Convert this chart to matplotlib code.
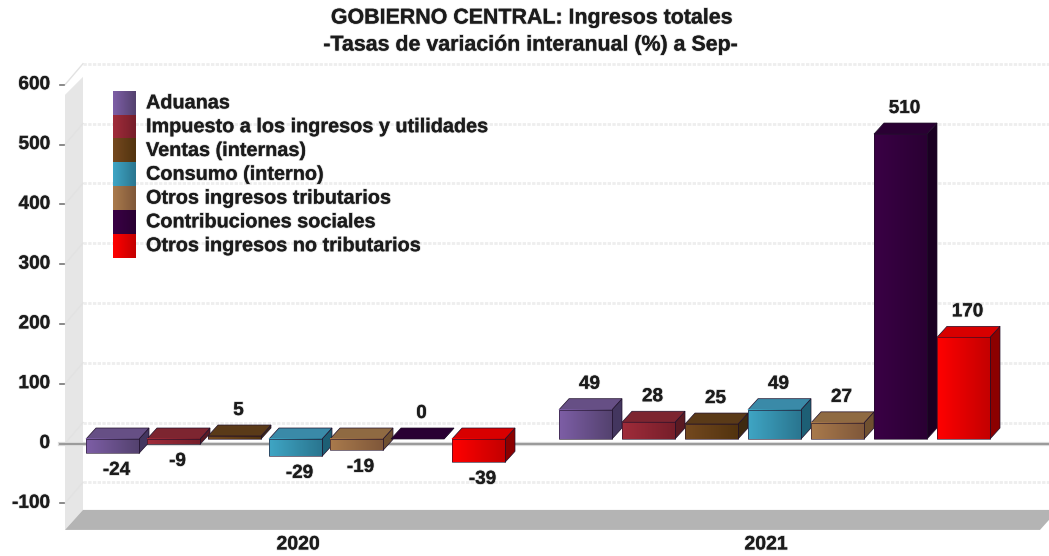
import numpy as np
import matplotlib
matplotlib.use("Agg")
import matplotlib.pyplot as plt
from matplotlib.colors import LinearSegmentedColormap
from matplotlib.patches import Polygon
import matplotlib.patheffects as pe

plt.rcParams['font.family'] = ['Liberation Sans', 'DejaVu Sans']

# ---- data ----
YEARS = ["2020", "2021"]
SERIES = ["Aduanas", "Impuesto a los ingresos y utilidades", "Ventas (internas)", "Consumo (interno)",
          "Otros ingresos tributarios", "Contribuciones sociales", "Otros ingresos no tributarios"]
VALS_2020 = [-24, -9, 5, -29, -19, 0, -39]
VALS_2021 = [49, 28, 25, 49, 27, 510, 170]
YTICKS = [-100, 0, 100, 200, 300, 400, 500, 600]
COL_LIGHT = ["#7d5ea6", "#a02c3a", "#74491f", "#3fa5c4", "#a97a4c", "#3a0045", "#ff0000"]
COL_DARK = ["#54426f", "#761e2a", "#52330f", "#2a7690", "#80583a", "#2a0033", "#c40000"]
COL_TOP = ["#664f85", "#7d2530", "#5a3a18", "#3a8aa8", "#8f6a42", "#2a0033", "#d80000"]
COL_SIDE = ["#43365f", "#5a1a22", "#3e2a10", "#1d5f75", "#6f5030", "#1a0022", "#8c0000"]

# ---- layout, in pixels of the 1049x556 image ----
W, H = 1049, 556
PX_PER_UNIT = 0.598
Y0_PX = 443.5            # front plane zero
BAR0_PX = 439            # bars sit a little above the zero line
GROUP_X = [86, 559]
GROUP_STEP = [61, 63]
BAR_W = 53
DEPTH_X, DEPTH_Y = 10, 11
WALL_X0, WALL_X1 = 65, 83
WALL_DY = 21

fig = plt.figure(figsize=(W / 100, H / 100), dpi=100, facecolor="white")
ax = fig.add_axes([0, 0, 1, 1])
ax.set_xlim(0, W)
ax.set_ylim((Y0_PX - H) / PX_PER_UNIT, Y0_PX / PX_PER_UNIT)
ax.axis("off")

u = 1 / PX_PER_UNIT      # one pixel in value units
bar_off = (Y0_PX - BAR0_PX) * u
floor_front = -144.5
floor_back = floor_front + 20 * u
halo = [pe.withStroke(linewidth=1.2, foreground="#00000028")]


def txt(x, y, s, size=14, ha="center", va="center"):
    ax.text(x, y, s, fontsize=size, fontweight="bold", color="#1c1c1c", ha=ha, va=va,
            path_effects=halo, zorder=20)


# walls and floor
ax.add_patch(Polygon([(WALL_X0, 583), (WALL_X1, 583 + 18 * u), (WALL_X1, floor_back), (WALL_X0, floor_front)],
                     fc="#e6e6e6", ec="none", zorder=1))
ax.add_patch(Polygon([(WALL_X0, floor_front), (WALL_X1, floor_back), (W, floor_back),
                      (W, floor_front + 10 * u), (1040, floor_front)],
                     fc="#b4b4b4", ec="none", zorder=2))

# grid
for t in YTICKS:
    yb = t + WALL_DY * u
    ax.plot([WALL_X1, W], [yb, yb], color="#eeeeee", lw=2, ls=(0, (1.2, 0.5)), zorder=1.5)
    ax.plot([WALL_X0, WALL_X1], [t, yb], color="#e2e2e2", lw=1, zorder=1.5)
    ax.plot([60, 64], [t, t], color="#777777", lw=1.2, zorder=3)
    txt(50, t, str(t), size=13.7, ha="right")

# zero line
ax.plot([60, W], [-1.5, -1.5], color="#dadada", lw=3, zorder=3)
ax.plot([60, W], [0, 0], color="#9a9a9a", lw=1.4, zorder=3.1)


def face_gradient(x0, x1, y0, y1, c0, c1, z):
    cmap = LinearSegmentedColormap.from_list("f", [c0, c1])
    ax.imshow(np.linspace(0, 1, 64).reshape(1, -1), cmap=cmap, extent=(x0, x1, y0, y1),
              aspect="auto", zorder=z, interpolation="bilinear")
    ax.add_patch(Polygon([(x0, y0), (x1, y0), (x1, y1), (x0, y1)], fc="none", ec="#20102a", lw=0.6,
                         alpha=0.7, zorder=z + 0.01))


def bar3d(x, v, i, z):
    base = bar_off
    top = v + bar_off
    lo, hi = min(base, top), max(base, top)
    d = DEPTH_Y * u
    # side and top faces, then the front
    ax.add_patch(Polygon([(x + BAR_W, lo), (x + BAR_W + DEPTH_X, lo + d), (x + BAR_W + DEPTH_X, hi + d), (x + BAR_W, hi)],
                         fc=COL_SIDE[i], ec="#20102a", lw=0.5, zorder=z))
    ax.add_patch(Polygon([(x, hi), (x + BAR_W, hi), (x + BAR_W + DEPTH_X, hi + d), (x + DEPTH_X, hi + d)],
                         fc=COL_TOP[i], ec="#20102a", lw=0.5, zorder=z))
    if hi > lo:
        face_gradient(x, x + BAR_W, lo, hi, COL_LIGHT[i], COL_DARK[i], z + 0.1)
    return lo, hi


# bars
for g, vals in enumerate([VALS_2020, VALS_2021]):
    for i, v in enumerate(vals):
        x = GROUP_X[g] + i * GROUP_STEP[g]
        lo, hi = bar3d(x, v, i, 5 + i * 0.5)
        if v < 0:
            txt(x + BAR_W / 2 + 4, lo - 17 * u, str(v), size=13.6)
        else:
            txt(x + BAR_W / 2 + 4, hi + 25.5 * u, str(v), size=13.6)

# legend
LEG_X, LEG_W, LEG_TOP, LEG_H = 113, 23, 91, 23.8
for i, name in enumerate(SERIES):
    y1 = (Y0_PX - (LEG_TOP + i * LEG_H)) * u
    y0 = (Y0_PX - (LEG_TOP + (i + 1) * LEG_H)) * u
    cmap = LinearSegmentedColormap.from_list("l", [COL_LIGHT[i], COL_DARK[i]])
    ax.imshow(np.linspace(0, 1, 32).reshape(1, -1), cmap=cmap, extent=(LEG_X, LEG_X + LEG_W, y0, y1),
              aspect="auto", zorder=10, interpolation="bilinear")
    txt(146, (y0 + y1) / 2, name, size=14.3, ha="left")

# axis labels and titles
txt(298, floor_front - 15 * u, YEARS[0], size=14)
txt(766, floor_front - 15 * u, YEARS[1], size=14)
txt(532, (Y0_PX - 18) * u, "GOBIERNO CENTRAL: Ingresos totales", size=15.4)
txt(531, (Y0_PX - 45) * u, "-Tasas de variación interanual (%) a Sep-", size=15.4)

ax.set_xlim(0, W)
ax.set_ylim((Y0_PX - H) / PX_PER_UNIT, Y0_PX / PX_PER_UNIT)
fig.savefig("out.png", dpi=100)
